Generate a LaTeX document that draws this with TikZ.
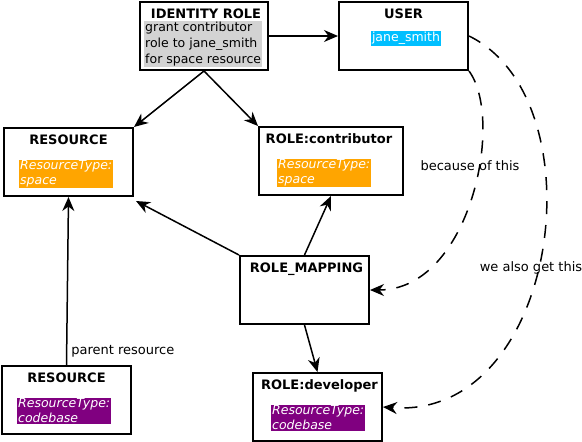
\documentclass[tikz,border=0pt]{standalone}
\usepackage{fontspec}
\setmainfont{DejaVu Sans}
\usetikzlibrary{arrows.meta}

\definecolor{tagorange}{RGB}{255,165,0}
\definecolor{tagpurple}{RGB}{128,0,128}
\definecolor{tagblue}{RGB}{0,191,255}
\definecolor{taggrey}{RGB}{211,211,211}

\begin{document}
\begin{tikzpicture}
        [
          x=1pt, y=-1pt,
          font=\fontsize{13}{15.5}\selectfont,
          box/.style={draw, line width=2pt, minimum height=68pt, inner sep=0pt},
          title/.style={anchor=base, inner sep=0pt, font=\fontsize{13}{15}\selectfont\bfseries},
          tag/.style={anchor=north west, inner sep=1pt, align=left, text=white,
                      font=\fontsize{12.5}{15}\selectfont\itshape},
          lbl/.style={inner sep=0pt},
          arr/.style={line width=1.5pt, -{Stealth[length=14pt,width=12pt,inset=4.5pt]}},
          dasharr/.style={arr, dash pattern=on 13pt off 11pt}
        ]
        \useasboundingbox (0,0) rectangle (582,442);
        % identity role
        \node [box, minimum width=128pt] (idrole) at (204,36) {};
        \node [title] (idroletitle) at ([xshift=2pt,yshift=-17pt]idrole.north) {IDENTITY ROLE};
        \node [tag, text=black, fill=taggrey, font=\fontsize{12.5}{16}\selectfont]
          (idroletag) at ([xshift=5pt,yshift=-19.5pt]idrole.north west)
          {grant contributor\\role to jane\_smith\\for space resource};
        % user
        \node [box, minimum width=129pt] (user) at (403.5,36) {};
        \node [title] (usertitle) at ([yshift=-17pt]user.north) {USER};
        \node [inner sep=1pt, fill=tagblue, text=white, font=\fontsize{12.5}{15}\selectfont]
          (usertag) at ([xshift=2.5pt,yshift=-2.5pt]user.center) {jane\_smith};
        % resource (space)
        \node [box, minimum width=129pt] (resspace) at (68.5,162) {};
        \node [title] (resspacetitle) at ([yshift=-17pt]resspace.north) {RESOURCE};
        \node [tag, fill=tagorange] (resspacetag) at ([xshift=16pt,yshift=-32.5pt]resspace.north west)
          {ResourceType:\\space};
        % role contributor
        \node [box, minimum width=144pt] (rolecontrib) at (331,161) {};
        \node [title] (rolecontribtitle) at ([xshift=-2pt,yshift=-17pt]rolecontrib.north) {ROLE:contributor};
        \node [tag, fill=tagorange] (rolecontribtag) at ([xshift=19pt,yshift=-32.5pt]rolecontrib.north west)
          {ResourceType:\\space};
        % role mapping
        \node [box, minimum width=129pt] (rolemap) at (304.5,290) {};
        \node [title] (rolemaptitle) at ([xshift=2pt,yshift=-17pt]rolemap.north) {ROLE\_MAPPING};
        % resource (codebase)
        \node [box, minimum width=129pt] (rescode) at (66.5,400) {};
        \node [title] (rescodetitle) at ([yshift=-17pt]rescode.north) {RESOURCE};
        \node [tag, fill=tagpurple] (rescodetag) at ([xshift=16pt,yshift=-32.5pt]rescode.north west)
          {ResourceType:\\codebase};
        % role developer
        \node [box, minimum width=129pt] (roledev) at (317.5,407) {};
        \node [title] (roledevtitle) at ([xshift=2pt,yshift=-17pt]roledev.north) {ROLE:developer};
        \node [tag, fill=tagpurple] (roledevtag) at ([xshift=19pt,yshift=-32.5pt]roledev.north west)
          {ResourceType:\\codebase};
        % labels
        \node [lbl] (becauselbl) at (470,166) {because of this};
        \node [lbl] (alsolbl) at (531,268) {we also get this};
        % edges
        \draw [arr] (idrole) -- (user);
        \draw [arr] (idrole.south) -- (resspace.north east);
        \draw [arr] (idrole.south) -- (rolecontrib.north west);
        \draw [arr] (rolemap.north west) -- ([xshift=2pt,yshift=-4pt]resspace.south east);
        \draw [arr] (rolemap.north) -- (rolecontrib.south);
        \draw [arr] (rolemap.south) -- (roledev.north);
        \draw [arr] (rescode.north)
          -- node [lbl, pos=0.08, anchor=west, xshift=4pt] (parentlbl) {parent resource}
          (resspace.south);
        % implied mappings
        \draw [dasharr]
        (user.south east) .. controls (505,120) and (470,290) .. (rolemap.east);
        \draw [dasharr]
        (user.east) .. controls (600,100) and (560,420) .. (roledev.east);
      \end{tikzpicture}
\end{document}
